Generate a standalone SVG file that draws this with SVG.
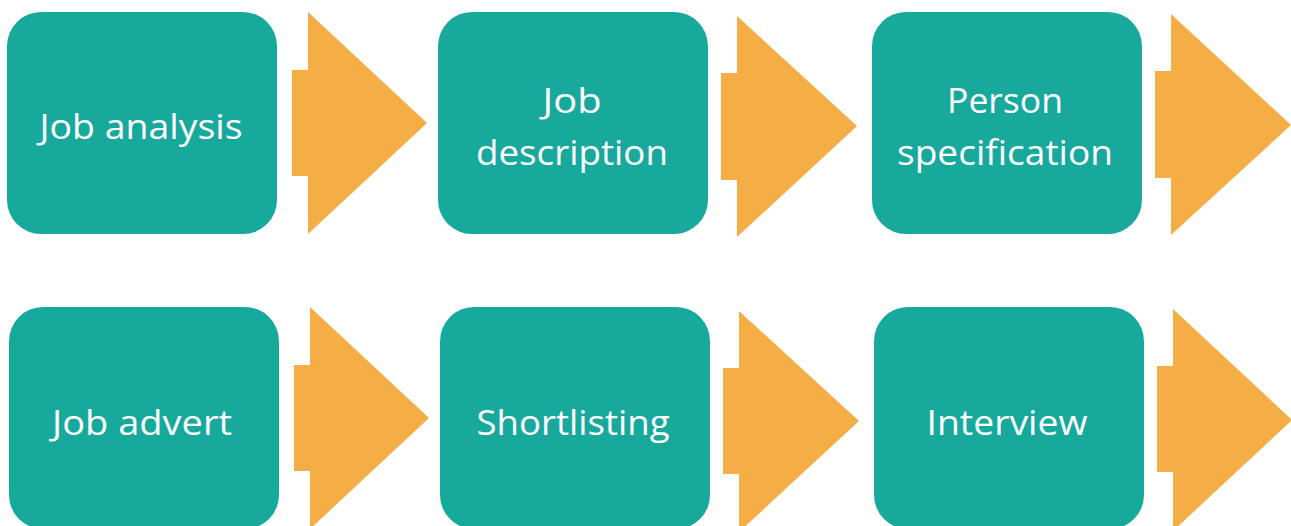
<svg xmlns="http://www.w3.org/2000/svg" width="1291" height="526" viewBox="0 0 1291 526">
<style>
.box{fill:#18A99D}
.arr{fill:#F5AD45}
.lbl{fill:#FFFFFF;font-family:"Open Sans","Liberation Sans",Arial,sans-serif;font-size:35px;text-anchor:middle}
</style>
<rect width="1291" height="526" fill="#FFFFFF"/>
<g id="connectors">
<polygon class="arr" points="292,70 308,70 308,12 427,123 308,234 308,176 292,176"/>
<polygon class="arr" points="721,73 737,73 737,16 857,126 737,237 737,180 721,180"/>
<polygon class="arr" points="1155,71 1171,71 1171,14 1291,125 1171,235 1171,178 1155,178"/>
<polygon class="arr" points="294,365 310,365 310,307 429,418 310,529 310,471 294,471"/>
<polygon class="arr" points="723,368 739,368 739,311 859,421 739,532 739,474 723,474"/>
<polygon class="arr" points="1157,366 1173,366 1173,309 1292,420 1173,531 1173,472 1157,472"/>
</g>
<g id="n1"><rect class="box" x="7" y="12" width="270" height="222" rx="34"/><text class="lbl" x="141" y="139" textLength="203" lengthAdjust="spacingAndGlyphs">Job analysis</text></g>
<g id="n2"><rect class="box" x="438" y="12" width="270" height="222" rx="34"/><text class="lbl" x="572" y="113" textLength="59" lengthAdjust="spacingAndGlyphs">Job</text><text class="lbl" x="572" y="165" textLength="192" lengthAdjust="spacingAndGlyphs">description</text></g>
<g id="n3"><rect class="box" x="872" y="12" width="270" height="222" rx="34"/><text class="lbl" x="1005" y="113" textLength="116" lengthAdjust="spacingAndGlyphs">Person</text><text class="lbl" x="1005" y="165" textLength="216" lengthAdjust="spacingAndGlyphs">specification</text></g>
<g id="n4"><rect class="box" x="9" y="307" width="270" height="222" rx="34"/><text class="lbl" x="142" y="435" textLength="180" lengthAdjust="spacingAndGlyphs">Job advert</text></g>
<g id="n5"><rect class="box" x="440" y="307" width="270" height="222" rx="34"/><text class="lbl" x="573" y="435" textLength="193" lengthAdjust="spacingAndGlyphs">Shortlisting</text></g>
<g id="n6"><rect class="box" x="874" y="307" width="270" height="222" rx="34"/><text class="lbl" x="1007" y="435" textLength="161" lengthAdjust="spacingAndGlyphs">Interview</text></g>
</svg>
